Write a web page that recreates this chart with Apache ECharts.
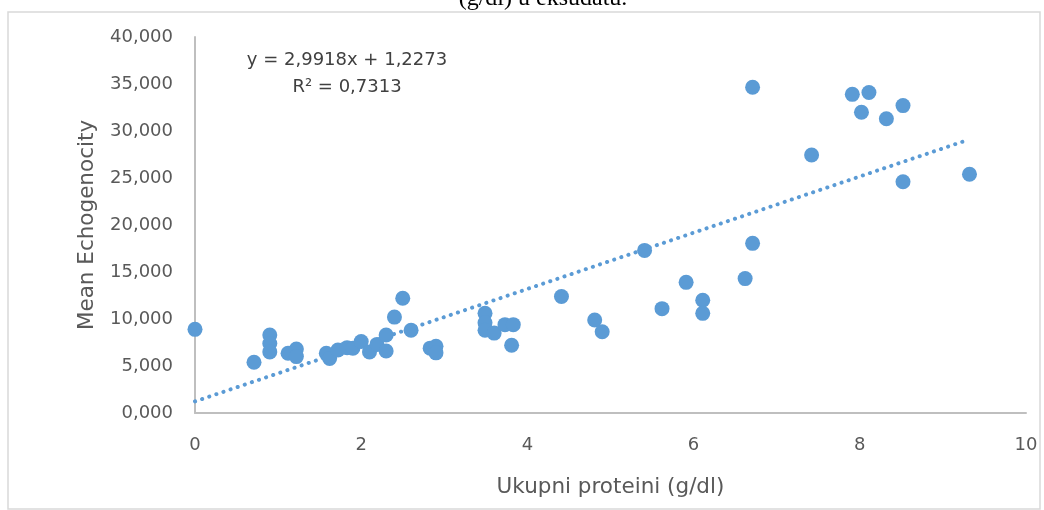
<!DOCTYPE html>
<html>
<head>
<meta charset="utf-8">
<script src="https://cdn.jsdelivr.net/npm/echarts@6/dist/echarts.min.js"></script>
<style>
html,body{margin:0;padding:0;background:#fff;}
#c{width:1044px;height:510px;}
</style>
</head>
<body>
<div id="c"></div>
<script>
// Data
const proteini = [0, 0.71, 0.9, 0.9, 0.9, 1.12, 1.22, 1.22, 1.58, 1.62, 1.72, 1.83, 1.9, 2.0, 2.1, 2.19, 2.3, 2.3, 2.4, 2.5, 2.6, 2.83, 2.9, 2.9, 3.49, 3.49, 3.49, 3.6, 3.73, 3.83, 3.81, 4.41, 4.81, 4.9, 5.41, 5.62, 5.91, 6.11, 6.11, 6.62, 6.71, 6.71, 7.42, 7.91, 8.02, 8.11, 8.32, 8.52, 8.52, 9.32];
const echogenocity = [8.9, 5.4, 8.3, 7.4, 6.5, 6.35, 6.8, 6.0, 6.35, 5.8, 6.7, 6.95, 6.9, 7.6, 6.5, 7.3, 8.3, 6.6, 10.2, 12.2, 8.8, 6.9, 7.1, 6.4, 10.6, 9.6, 8.8, 8.5, 9.4, 9.4, 7.2, 12.4, 9.9, 8.65, 17.3, 11.1, 13.9, 12.0, 10.6, 14.3, 18.05, 34.65, 27.45, 33.9, 32.0, 34.1, 31.3, 32.7, 24.6, 25.4];
// Trendline end points (as drawn in the reference)
const trendX = [0, 9.3];
const trendY = [1.23, 29.05];
const equationText = 'y = 2,9918x + 1,2273';
const r2Text = 'R² = 0,7313';
const xTitle = 'Ukupni proteini (g/dl)';
const yTitle = 'Mean Echogenocity';
const topText = '(g/dl) u eksudatu.';

const chart = echarts.init(document.getElementById('c'), null, {renderer: 'canvas'});
const labelFont = 'DejaVu Sans';
const gray = '#595959';
chart.setOption({
  animation: false,
  backgroundColor: '#fff',
  grid: {left: 195, right: 18, top: 37, bottom: 97},
  xAxis: {
    type: 'value', min: 0, max: 10, interval: 2,
    axisLine: {show: true, lineStyle: {color: '#BFBFBF', width: 2}},
    axisTick: {show: false},
    splitLine: {show: false},
    axisLabel: {color: gray, fontFamily: labelFont, fontSize: 18, margin: 23},
    name: xTitle, nameLocation: 'middle', nameGap: 63,
    nameTextStyle: {color: gray, fontFamily: labelFont, fontSize: 21.5}
  },
  yAxis: {
    type: 'value', min: 0, max: 40, interval: 5,
    axisLine: {show: true, lineStyle: {color: '#BFBFBF', width: 2}},
    axisTick: {show: false},
    splitLine: {show: false},
    axisLabel: {color: gray, fontFamily: labelFont, fontSize: 18, margin: 22,
      formatter: v => v.toFixed(3).replace('.', ',')},
    name: yTitle, nameLocation: 'middle', nameGap: 97, nameRotate: 90,
    nameTextStyle: {color: gray, fontFamily: labelFont, fontSize: 21.5}
  },
  series: [
    {
      type: 'line',
      data: trendX.map((x, i) => [x, trendY[i]]),
      symbol: 'none',
      lineStyle: {color: '#5B9BD5', width: 4, type: [0.1, 7.4], cap: 'round'},
      z: 1
    },
    {
      type: 'scatter',
      data: proteini.map((x, i) => [x, echogenocity[i]]),
      symbol: 'circle',
      symbolSize: 15,
      itemStyle: {color: '#5B9BD5', opacity: 1},
      z: 2
    }
  ],
  graphic: [
    {type: 'rect', shape: {x: 8, y: 12, width: 1032, height: 497}, style: {fill: 'none', stroke: '#D9D9D9', lineWidth: 1.5}, silent: true},
    {type: 'text', x: 543, y: -13, style: {text: topText, font: '24px "Liberation Serif"', fill: '#000', align: 'center', verticalAlign: 'top'}},
    {type: 'text', x: 347, y: 60, style: {text: equationText, font: '18px "DejaVu Sans"', fill: '#404040', align: 'center', verticalAlign: 'middle'}},
    {type: 'text', x: 347, y: 87, style: {text: r2Text, font: '18px "DejaVu Sans"', fill: '#404040', align: 'center', verticalAlign: 'middle'}}
  ]
});
</script>
</body>
</html>
